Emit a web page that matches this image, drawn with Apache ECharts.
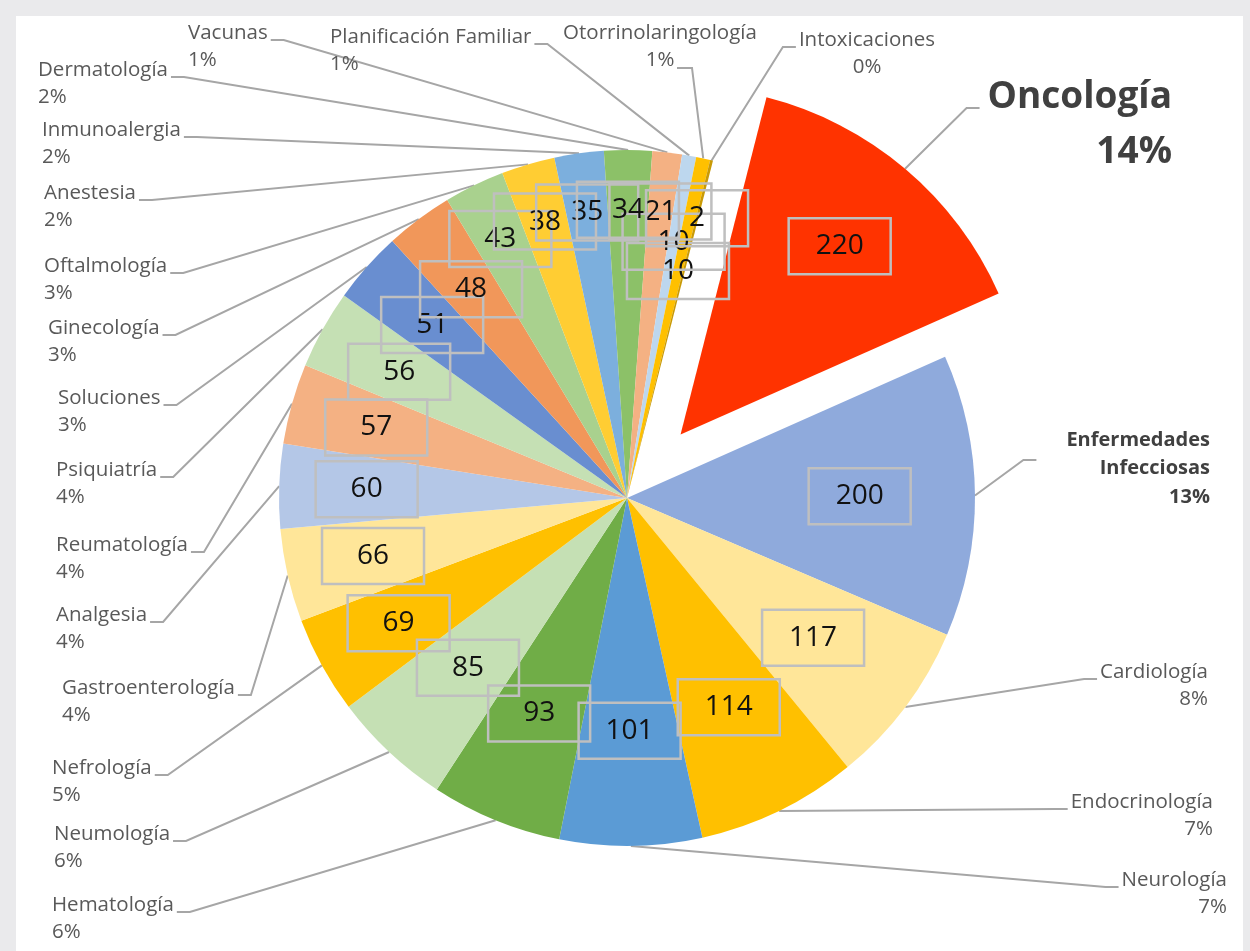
<!DOCTYPE html>
<html>
<head>
    <meta charset="utf-8">
    <title>Consumo por especialidad</title>
    <script src="https://cdn.jsdelivr.net/npm/echarts@6/dist/echarts.min.js"></script>
    <style>
        html, body { margin: 0; padding: 0; background: #eaeaec; }
        #panel { position: absolute; left: 16px; top: 16px; width: 1227px; height: 935px; background: #ffffff; }
        #chart1 { position: absolute; left: 0; top: 0; width: 1250px; height: 951px; }
    </style>
</head>
<body>
<div id="panel"></div>
<div id="chart1"></div>
<script type="text/javascript">
    // datos, en sentido horario desde Oncología
    var categories = ['Oncología', 'Enfermedades Infecciosas', 'Cardiología', 'Endocrinología', 'Neurología',
        'Hematología', 'Neumología', 'Nefrología', 'Gastroenterología', 'Analgesia', 'Reumatología',
        'Psiquiatría', 'Soluciones', 'Ginecología', 'Oftalmología', 'Anestesia', 'Inmunoalergia',
        'Dermatología', 'Vacunas', 'Planificación Familiar', 'Otorrinolaringología', 'Intoxicaciones'];
    var values = [220, 200, 117, 114, 101, 93, 85, 69, 66, 60, 57, 56, 51, 48, 43, 38, 35, 34, 21, 10, 10, 2];
    var sliceColors = ['#ff3300', '#8faadc', '#ffe699', '#ffc000', '#5b9bd5', '#70ad47', '#c5e0b4', '#ffc000',
        '#ffe699', '#b4c7e7', '#f4b183', '#c5e0b4', '#698ed0', '#f1975a', '#a9d18e', '#ffcd33', '#7cafdd',
        '#8cc168', '#f4b183', '#bdd7ee', '#ffc000', '#c99a06'];

    // dónde va cada etiqueta exterior: [x, centro de la 1a línea, alineación, lado de la guía, dx, dy]
    var labelSpots = {
        'Oncología': [1172, 97, 'right', 'l', 8, 11],
        'Enfermedades Infecciosas': [1210, 440, 'right', 'l', 30, 20],
        'Cardiología': [1208, 672, 'right', 'l'],
        'Endocrinología': [1213, 802, 'right', 'l'],
        'Neurología': [1227, 880, 'right', 'l'],
        'Hematología': [52, 905, 'left', 'r'],
        'Neumología': [54, 834, 'left', 'r'],
        'Nefrología': [52, 768, 'left', 'r'],
        'Gastroenterología': [62, 688, 'left', 'r'],
        'Analgesia': [56, 615, 'left', 'r'],
        'Reumatología': [56, 545, 'left', 'r'],
        'Psiquiatría': [56, 470, 'left', 'r'],
        'Soluciones': [58, 398, 'left', 'r'],
        'Ginecología': [48, 328, 'left', 'r'],
        'Oftalmología': [44, 266, 'left', 'r'],
        'Anestesia': [44, 193, 'left', 'r'],
        'Inmunoalergia': [42, 130, 'left', 'r'],
        'Dermatología': [38, 70, 'left', 'r'],
        'Vacunas': [188, 33, 'left', 'r'],
        'Planificación Familiar': [330, 37, 'left', 'r'],
        'Otorrinolaringología': [660, 33, 'center', 'r2'],
        'Intoxicaciones': [867, 40, 'center', 'l']
    };
    var wrapNames = { 'Enfermedades Infecciosas': 'Enfermedades\nInfecciosas' };

    // qué tan lejos del centro va la caja del valor (fracción del radio)
    var ringNear = ['Oncología', 'Enfermedades Infecciosas', 'Cardiología', 'Endocrinología', 'Neurología',
        'Hematología', 'Neumología', 'Otorrinolaringología'];
    var ringFar = ['Oftalmología', 'Anestesia', 'Inmunoalergia', 'Dermatología', 'Vacunas', 'Intoxicaciones'];

    var PIE_CENTER = [627, 498];
    var PIE_R = 348;
    var START = 75.7;
    var EXPLODE = 83;
    var FONT = "'Open Sans', 'Noto Sans', sans-serif";
    var CLEAR = 'rgba(0,0,0,0)';

    var total = values.reduce(function (a, b) { return a + b; }, 0);
    // Oncología sale desplazada a lo largo de su ángulo medio
    var midAngle = (START - values[0] / total * 180) * Math.PI / 180;
    var EXPLODED_CENTER = [PIE_CENTER[0] + Math.cos(midAngle) * EXPLODE, PIE_CENTER[1] - Math.sin(midAngle) * EXPLODE];

    var myChart1 = echarts.init(document.getElementById('chart1'));

    function placeLabel(p) {
        var name = categories[p.dataIndex];
        var s = labelSpots[name];
        var lh = p.dataIndex === 0 ? 55 : (p.dataIndex === 1 ? 28.5 : 27);
        var w = p.labelRect.width;
        var left = s[2] === 'left' ? s[0] : (s[2] === 'right' ? s[0] - w : s[0] - w / 2);
        var gap = s[4] != null ? s[4] : 3;
        var ay = s[1] + (s[5] != null ? s[5] : 7);
        var ax, stub;
        if (s[3] === 'r') {
            ax = left + w + gap; stub = ax + 13;
        } else if (s[3] === 'r2') {
            ax = s[0] + 17; ay = s[1] + lh + 8; stub = ax + 15;
        } else {
            ax = left - gap; stub = ax - 13;
        }
        var edge = p.labelLinePoints ? p.labelLinePoints[0] : [stub, ay];
        return {
            x: s[0],
            y: s[1] - lh / 2,
            align: s[2],
            verticalAlign: 'top',
            labelLinePoints: [edge, [stub, ay], [ax, ay]]
        };
    }

    var outerLabel = {
        show: true,
        position: 'outside',
        fontFamily: FONT,
        fontSize: 20.5,
        lineHeight: 27,
        color: '#595959',
        overflow: 'none',
        formatter: function (p) {
            return (wrapNames[p.name] || p.name) + '\n' + Math.round(p.value / total * 100) + '%';
        }
    };
    var outerLine = {
        show: true,
        length: 10,
        length2: 10,
        lineStyle: { color: '#a6a6a6', width: 2 }
    };

    function slicePie(center, visible) {
        return {
            type: 'pie',
            center: center,
            radius: PIE_R,
            startAngle: START,
            clockwise: true,
            avoidLabelOverlap: false,
            silent: true,
            itemStyle: { borderWidth: 0 },
            label: outerLabel,
            labelLine: outerLine,
            labelLayout: placeLabel,
            emphasis: { disabled: true },
            data: categories.map(function (n, i) {
                var item = { name: n, value: values[i], itemStyle: { color: sliceColors[i] } };
                if (!visible(i)) {
                    item.itemStyle = { color: CLEAR };
                    item.label = { show: false };
                    item.labelLine = { show: false };
                } else if (i === 0) {
                    item.label = { fontSize: 37, fontWeight: 'bold', lineHeight: 55, color: '#404040' };
                } else if (i === 1) {
                    item.label = { fontSize: 20, fontWeight: 'bold', lineHeight: 28.5, color: '#404040' };
                }
                return item;
            })
        };
    }

    // serie transparente solo para las cajas con el valor;
    // la etiqueta 'inside' queda a media distancia entre inner y el borde
    function valueSeries(center, inner, pick) {
        return {
            type: 'pie',
            center: center,
            radius: [inner, PIE_R],
            startAngle: START,
            clockwise: true,
            silent: true,
            avoidLabelOverlap: false,
            itemStyle: { color: CLEAR },
            labelLine: { show: false },
            labelLayout: { hideOverlap: false },
            label: {
                position: 'inside',
                formatter: '{c}',
                fontFamily: FONT,
                fontSize: 28,
                color: '#111111',
                width: 102,
                height: 56,
                lineHeight: 56,
                align: 'center',
                verticalAlign: 'middle',
                borderColor: '#bfbfbf',
                borderWidth: 2.5
            },
            emphasis: { disabled: true },
            data: categories.map(function (n, i) {
                return { name: n, value: values[i], label: { show: pick(n, i) } };
            })
        };
    }

    function inNear(n) { return ringNear.indexOf(n) >= 0; }
    function inFar(n) { return ringFar.indexOf(n) >= 0; }

    myChart1.setOption({
        animation: false,
        backgroundColor: 'transparent',
        series: [
            slicePie(PIE_CENTER, function (i) { return i !== 0; }),
            slicePie(EXPLODED_CENTER, function (i) { return i === 0; }),
            valueSeries(PIE_CENTER, PIE_R * 0.32, function (n, i) { return i !== 0 && inNear(n); }),
            valueSeries(PIE_CENTER, PIE_R * 0.48, function (n) { return !inNear(n) && !inFar(n); }),
            valueSeries(PIE_CENTER, PIE_R * 0.64, function (n) { return inFar(n); }),
            valueSeries(EXPLODED_CENTER, PIE_R * 0.40, function (n, i) { return i === 0; })
        ]
    });
</script>
</body>
</html>
